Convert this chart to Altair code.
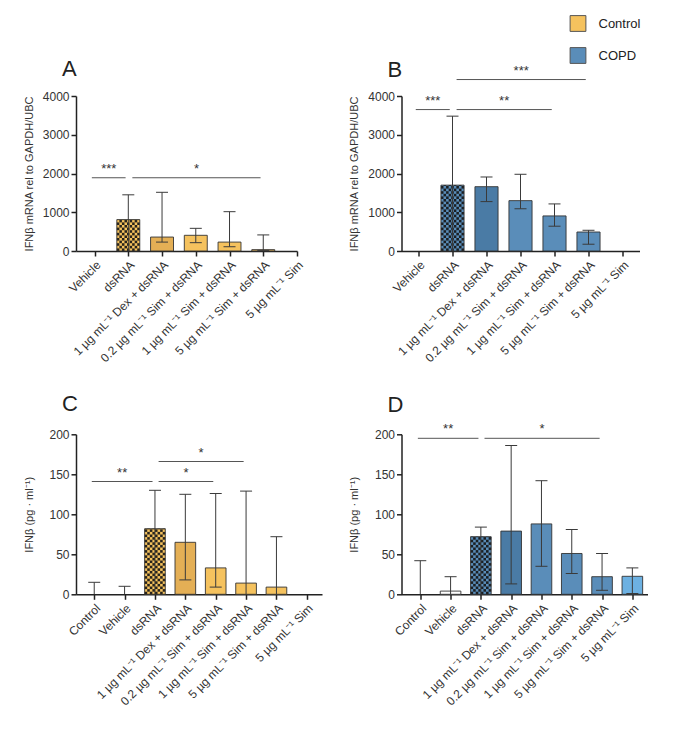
import json
import numpy as np
import pandas as pd
import altair as alt

# ---------------- data ----------------
labels_ab = ["Vehicle", "dsRNA", "1 µg mL⁻¹ Dex + dsRNA", "0.2 µg mL⁻¹ Sim + dsRNA",
             "1 µg mL⁻¹ Sim + dsRNA", "5 µg mL⁻¹ Sim + dsRNA", "5 µg mL⁻¹ Sim"]
labels_cd = ["Control"] + labels_ab

a_mean = [0, 810, 360, 405, 230, 35, 0]
a_upper = [None, 1450, 1515, 585, 1015, 415, None]
a_lower = [None, None, 230, 215, 110, 15, None]
a_sig_from = [0, 1]
a_sig_to = [1, 5]
a_sig_level = [1890, 1890]
a_sig_text = ["***", "*"]

b_mean = [0, 1700, 1660, 1300, 905, 490, 0]
b_upper = [None, 3480, 1910, 1980, 1215, 535, None]
b_lower = [None, None, 1275, 1090, 640, 175, None]
b_sig_from = [0, 1, 1]
b_sig_to = [1, 4, 5]
b_sig_level = [3650, 3650, 4425]
b_sig_text = ["***", "**", "***"]

c_mean = [0, 0, 82, 65, 33, 14, 9, 0]
c_upper = [15, 10, 130, 125, 126, 129, 72, None]
c_lower = [None, None, None, 18, 9, None, None, None]
c_sig_from = [0, 2, 2]
c_sig_to = [2, 4, 5]
c_sig_level = [141, 141, 166]
c_sig_text = ["**", "*", "*"]

d_mean = [0, 4, 72, 79, 88, 51, 22, 22.5]
d_upper = [42, 22, 84, 186, 142, 81, 51, 33]
d_lower = [None, None, None, 13, 35, 26, 5, 1]
d_sig_from = [0, 2]
d_sig_to = [2, 6]
d_sig_level = [195, 195]
d_sig_text = ["**", "*"]

groups = ["Control", "COPD"]

# ---------------- style ----------------
FONT = "Liberation Sans"
YEL = "#F5C25E"
BLU = "#5A8DB9"
fill_domain = ["Control|plain", "Control|dex", "Control|vehicle", "Control|simonly",
               "COPD|plain", "COPD|dex", "COPD|vehicle", "COPD|simonly"]
fill_range = [YEL, "#E4AF55", "#FFFFFF", YEL,
              BLU, "#4A7BA5", "#FFFFFF", "#6DB1E2"]
fill_scale = alt.Scale(domain=fill_domain, range=fill_range)
HW = 0.34      # half bar width in category units
CELL = 2.6     # checker cell size in px
ECOL = "#3a3a3a"


def kind(name):
    if name in ("Vehicle", "Control"):
        return "vehicle"
    if "Dex" in name:
        return "dex"
    if name == "5 µg mL⁻¹ Sim":
        return "simonly"
    return "plain"


def panel(letter, names, mean, upper, lower, group, sig_from, sig_to, sig_level, sig_text,
          ymax, ystep, ytitle, xmin, xmax, width, height, title_dy, legend=False):
    n = len(names)
    df = pd.DataFrame({"idx": list(range(n)), "name": names, "mean": mean,
                       "upper": upper, "lower": lower})
    df["key"] = [group + "|" + kind(nm) for nm in names]

    xs = alt.Scale(domain=[xmin, xmax], nice=False, zero=False)
    ys = alt.Scale(domain=[0, ymax], nice=False)
    lab_expr = json.dumps(names, ensure_ascii=False) + "[datum.value]"
    xaxis = alt.Axis(values=list(range(n)), labelExpr=lab_expr, labelAngle=-45, title=None,
                     labelOverlap=False, labelFlush=False, labelPadding=3)
    yaxis = alt.Axis(values=list(range(0, ymax + 1, ystep)), title=ytitle, titleX=-42,
                     format="d", labelFlush=False, labelOverlap=False, labelPadding=2)

    def X(f):
        return alt.X(f, scale=xs, axis=xaxis)

    def Y(f):
        return alt.Y(f, scale=ys, axis=yaxis)

    base = alt.Chart(df)
    barsrc = base.transform_filter("datum.mean > 0").transform_calculate(
        x0=f"datum.idx - {HW}", x1=f"datum.idx + {HW}", zero="0")
    bars = barsrc.mark_rect(strokeWidth=0).encode(
        x=X("x0:Q"), x2="x1:Q", y=Y("mean:Q"), y2="zero:Q",
        fill=alt.Fill("key:N", scale=fill_scale, legend=None))

    # checker texture of the dsRNA bar
    i = names.index("dsRNA")
    m = mean[i]
    cw_idx = CELL / (width / (xmax - xmin))
    ch = CELL / (height / ymax)
    ncol = int(round(2 * HW / cw_idx))
    cw = 2 * HW / ncol
    nrow = int(np.ceil(m / ch))
    cells = []
    for r in range(nrow):
        for c in range(ncol):
            if (r + c) % 2 == 0:
                cells.append({"cx0": i - HW + c * cw, "cx1": i - HW + (c + 1) * cw,
                              "cy0": r * ch, "cy1": min((r + 1) * ch, m)})
    checker = alt.Chart(pd.DataFrame(cells)).mark_rect(color="#161616", opacity=0.92).encode(
        x=X("cx0:Q"), x2="cx1:Q", y=Y("cy0:Q"), y2="cy1:Q")

    outline = barsrc.mark_rect(fillOpacity=0, stroke="#333", strokeWidth=0.9).encode(
        x=X("x0:Q"), x2="x1:Q", y=Y("mean:Q"), y2="zero:Q")

    err = base.transform_filter("isValid(datum.upper)").transform_calculate(
        lo="isValid(datum.lower) ? datum.lower : 0")
    rule = err.mark_rule(color=ECOL, strokeWidth=1).encode(
        x=X("idx:Q"), y=Y("lo:Q"), y2="upper:Q")
    cap_u = err.mark_tick(orient="horizontal", size=12, thickness=1, color=ECOL, opacity=1).encode(
        x=X("idx:Q"), y=Y("upper:Q"))
    cap_l = base.transform_filter("isValid(datum.lower)").mark_tick(
        orient="horizontal", size=12, thickness=1, color=ECOL, opacity=1).encode(
        x=X("idx:Q"), y=Y("lower:Q"))

    sig = pd.DataFrame({"a": sig_from, "b": sig_to, "lev": sig_level, "txt": sig_text})
    sig["xa"] = [a + (0.12 if names[a] == "dsRNA" else -0.08) for a in sig_from]
    sig["xb"] = [b - 0.08 for b in sig_to]
    sigc = alt.Chart(sig).transform_calculate(xm="(datum.xa + datum.xb) / 2")
    sig_rule = sigc.mark_rule(color="#555", strokeWidth=1).encode(
        x=X("xa:Q"), x2="xb:Q", y=Y("lev:Q"))
    sig_txt = sigc.mark_text(dy=-9, fontSize=13, font=FONT, color="#333", baseline="middle").encode(
        x=X("xm:Q"), y=Y("lev:Q"), text="txt:N")

    layers = [bars, checker, outline, rule, cap_u, cap_l, sig_rule, sig_txt]
    if legend:
        leg = alt.Chart(pd.DataFrame({"grp": groups})).mark_square(opacity=0).encode(
            x=alt.value(0), y=alt.value(0),
            color=alt.Color("grp:N", scale=alt.Scale(domain=groups, range=[YEL, BLU]),
                            legend=alt.Legend(orient="none", legendX=168, legendY=-81, title=None,
                                              symbolType="square", symbolSize=250, symbolOpacity=1,
                                              symbolStrokeColor="#555", symbolStrokeWidth=1,
                                              labelFontSize=13, labelFont=FONT, labelColor="#222",
                                              rowPadding=11, labelOffset=12, padding=0)))
        layers.append(leg)

    return alt.layer(*layers).properties(
        width=width, height=height,
        title=alt.TitleParams(letter, anchor="start", fontSize=22, font=FONT, fontWeight="normal",
                              color="#222", dx=-14, dy=title_dy, frame="group"))


A = panel("A", labels_ab, a_mean, a_upper, a_lower, "Control", a_sig_from, a_sig_to, a_sig_level,
          a_sig_text, 4000, 1000, "IFNβ mRNA rel to GAPDH/UBC", -0.55, 6.0, 221, 155, -5.5)
B = panel("B", labels_ab, b_mean, b_upper, b_lower, "COPD", b_sig_from, b_sig_to, b_sig_level,
          b_sig_text, 4000, 1000, "IFNβ mRNA rel to GAPDH/UBC", -0.5, 6.5, 238, 155, 70.5, legend=True)
C = panel("C", labels_cd, c_mean, c_upper, c_lower, "Control", c_sig_from, c_sig_to, c_sig_level,
          c_sig_text, 200, 50, "IFNβ (pg · ml⁻¹)", -0.6, 7.5, 246, 160, -8.5)
D = panel("D", labels_cd, d_mean, d_upper, d_lower, "COPD", d_sig_from, d_sig_to, d_sig_level,
          d_sig_text, 200, 50, "IFNβ (pg · ml⁻¹)", -0.62, 7.5, 246, 160, -2.5)

top = alt.hconcat(A, B, spacing=104.5, bounds="flush").resolve_scale(color="independent").resolve_legend(color="independent")
bottom = alt.hconcat(C, D, spacing=79.5, bounds="flush")
# with flush bounds the nested rows count as zero height, so the spacing is row origin to row origin
chart = alt.vconcat(top, bottom, spacing=338.3, bounds="flush").resolve_scale(
    color="independent").resolve_legend(color="independent").properties(
    padding={"left": 14, "top": 7, "right": 5, "bottom": 0}
).configure_view(stroke=None).configure_axis(
    domainColor="#222", domainWidth=1.5, tickColor="#222", tickWidth=1.5, tickSize=5,
    labelColor="#333", labelFont=FONT, labelFontSize=12, titleFont=FONT, titleFontSize=11,
    titleFontWeight="normal", titleColor="#333", grid=False
)

chart.save("out.html", embed_options={"renderer": "svg", "actions": False})
